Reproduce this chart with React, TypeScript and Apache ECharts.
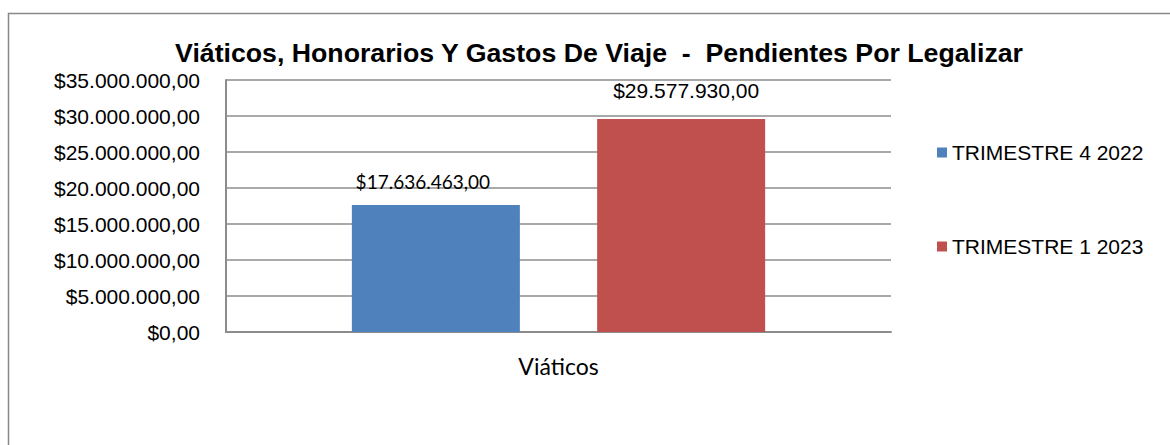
import React, { useEffect, useRef } from "react";
import * as echarts from "echarts";

const categories = ["Viáticos"];
const seriesNames = ["TRIMESTRE 4 2022", "TRIMESTRE 1 2023"];
const trimestre4_2022 = [17636463];
const trimestre1_2023 = [29577930];
const seriesColors = ["#4F81BD", "#C0504D"];
const chartTitle = "Viáticos, Honorarios Y Gastos De Viaje  -  Pendientes Por Legalizar";

function fmt(v: number): string {
  const parts = Math.round(v).toString().replace(/\B(?=(\d{3})+(?!\d))/g, ".");
  return "$" + parts + ",00";
}

export default function App() {
  const ref = useRef<HTMLDivElement>(null);
  useEffect(() => {
    document.body.style.margin = "0";
    const chart = echarts.init(ref.current!, null, { renderer: "svg" });
    chart.setOption({
      animation: false,
      backgroundColor: "#ffffff",
      title: {
        text: chartTitle,
        left: 594,
        textAlign: "center",
        top: 34,
        textStyle: { fontFamily: "Arial, Liberation Sans", fontWeight: "bold", fontSize: 26.7, color: "#000" },
      },
      graphic: [
        {
          type: "rect",
          shape: { x: 8.5, y: 13.5, width: 1200, height: 500 },
          style: { fill: "none", stroke: "#888888", lineWidth: 1.5 },
          silent: true,
          z: -1,
        },
      ],
      legend: {
        orient: "vertical",
        left: 932,
        top: 137,
        itemWidth: 10,
        itemHeight: 10,
        itemGap: 73,
        icon: "rect",
        textStyle: { fontFamily: "Arial, Liberation Sans", fontSize: 21, color: "#000" },
        data: seriesNames,
      },
      grid: { left: 226, right: 279, top: 80, bottom: 113 },
      xAxis: {
        type: "category",
        data: categories,
        axisLine: { show: true, lineStyle: { color: "#8c8c8c", width: 2 } },
        axisTick: { show: false },
        axisLabel: {
          fontFamily: "Lato, Open Sans",
          fontSize: 23,
          color: "#000",
          margin: 22,
        },
      },
      yAxis: {
        type: "value",
        min: 0,
        max: 35000000,
        interval: 5000000,
        axisLine: { show: true, lineStyle: { color: "#8c8c8c", width: 2 } },
        axisTick: { show: false },
        splitLine: { show: true, lineStyle: { color: "#8c8c8c", width: 1.5 } },
        axisLabel: {
          formatter: (v: number) => fmt(v),
          fontFamily: "Arial, Liberation Sans",
          fontSize: 21,
          color: "#000",
          margin: 26,
        },
      },
      series: [
        {
          name: seriesNames[0],
          type: "bar",
          data: trimestre4_2022,
          barWidth: 168,
          barGap: "46%",
          itemStyle: { color: seriesColors[0] },
          label: {
            show: true,
            position: "top",
            distance: 14,
            offset: [-13, 0],
            formatter: (p: any) => fmt(p.value),
            fontFamily: "Lato, Open Sans",
            fontSize: 19,
            color: "#000",
          },
        },
        {
          name: seriesNames[1],
          type: "bar",
          data: trimestre1_2023,
          barWidth: 168,
          barGap: "46%",
          itemStyle: { color: seriesColors[1] },
          label: {
            show: true,
            position: "top",
            distance: 18,
            offset: [5, 0],
            formatter: (p: any) => fmt(p.value),
            fontFamily: "Arial, Liberation Sans",
            fontSize: 21,
            color: "#000",
          },
        },
      ],
    });
    return () => chart.dispose();
  }, []);
  return <div ref={ref} style={{ width: 1170, height: 445 }} />;
}
